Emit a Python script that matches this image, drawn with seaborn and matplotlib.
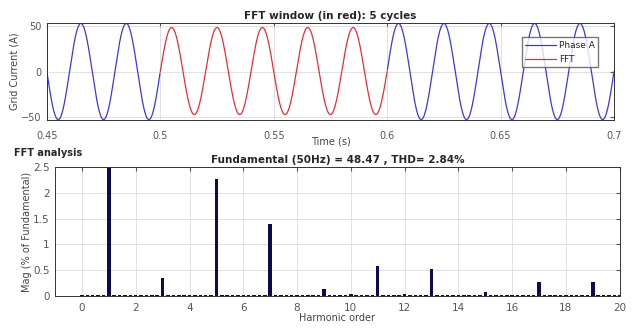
import numpy as np
import pandas as pd
import seaborn as sns
import matplotlib.pyplot as plt

#####################################
# Data
#####################################

GRID_FREQ_HZ = 50
T_START = 0.45
T_END = 0.70
FFT_START = 0.50
FFT_END = 0.60

# peak value of each half cycle (10 ms each) from 0.45 s to 0.70 s
half_cycle_peaks = [
    -53, 53, -53, 53, -53,                           # 0.45 - 0.50 (Phase A)
    48.5, -47.5, 48.5, -47.5, 48.5, -47.5, 48.5, -47.5, 48.5, -47.5,  # FFT window
    53, -53, 53, -53, 53, -53, 53, -53, 53, -53,     # 0.60 - 0.70 (Phase A)
]

# FFT magnitude (% of fundamental), orders 0..20 in 0.2 steps (rows = one order)
harmonic_orders = [round(0.2 * k, 1) for k in range(101)]
harmonic_mags = [
    0.03, 0.03, 0.03, 0.03, 0.03,   # 0
    100.0, 0.03, 0.03, 0.03, 0.03,  # 1
    0.03, 0.03, 0.03, 0.03, 0.03,   # 2
    0.35, 0.03, 0.03, 0.03, 0.03,   # 3
    0.03, 0.03, 0.03, 0.03, 0.03,   # 4
    2.27, 0.03, 0.03, 0.03, 0.03,   # 5
    0.03, 0.03, 0.03, 0.03, 0.03,   # 6
    1.40, 0.03, 0.03, 0.03, 0.03,   # 7
    0.03, 0.03, 0.03, 0.03, 0.03,   # 8
    0.13, 0.03, 0.03, 0.03, 0.03,   # 9
    0.04, 0.03, 0.03, 0.03, 0.03,   # 10
    0.58, 0.03, 0.03, 0.03, 0.03,   # 11
    0.04, 0.03, 0.03, 0.03, 0.03,   # 12
    0.53, 0.03, 0.03, 0.03, 0.03,   # 13
    0.03, 0.03, 0.03, 0.03, 0.03,   # 14
    0.08, 0.03, 0.03, 0.03, 0.03,   # 15
    0.03, 0.03, 0.03, 0.03, 0.03,   # 16
    0.27, 0.03, 0.03, 0.03, 0.03,   # 17
    0.03, 0.03, 0.03, 0.03, 0.03,   # 18
    0.27, 0.03, 0.03, 0.03, 0.03,   # 19
    0.03,                           # 20
]

TOP_TITLE = "FFT window (in red): 5 cycles"
BOTTOM_TITLE = "Fundamental (50Hz) = 48.47 , THD= 2.84%"

BLUE = "#3a3ad8"
RED = "#e0303c"
NAVY = "#0b0b52"
GRID = "#dcdcdc"


def build_waveform():
    """Sine wave at grid frequency, scaled half cycle by half cycle."""
    t = np.linspace(T_START, T_END, 2501)
    idx = np.minimum(((t - T_START) / 0.01).astype(int), len(half_cycle_peaks) - 1)
    amp = np.abs(np.array(half_cycle_peaks))[idx]
    i = amp * np.sin(2 * np.pi * GRID_FREQ_HZ * t)
    df = pd.DataFrame({"t": t, "i": i})
    df["seg"] = np.where(df["t"] < FFT_START, 0, np.where(df["t"] <= FFT_END, 1, 2))
    return df


def style_axes(ax, xpad):
    ax.grid(True, color=GRID, linewidth=0.6)
    ax.set_axisbelow(True)
    ax.tick_params(direction="in", length=3, labelsize=7, colors="#555555",
                   top=True, right=True)
    ax.tick_params(axis="x", pad=xpad)
    ax.tick_params(axis="y", pad=4)
    for s in ax.spines.values():
        s.set_color("#333333")
        s.set_linewidth(0.7)


def main():
    sns.set_style("white")
    plt.rcParams["font.family"] = ["DejaVu Sans"]

    fig = plt.figure(figsize=(6.33, 3.28), dpi=100)
    ax1 = fig.add_axes([0.074, 0.634, 0.896, 0.296])
    ax2 = fig.add_axes([0.087, 0.097, 0.892, 0.394])

    # top: waveform
    wave = build_waveform()
    blue_df = wave[wave["seg"] != 1]
    red_df = wave[wave["seg"] == 1]
    sns.lineplot(data=blue_df, x="t", y="i", units="seg", estimator=None,
                 color=BLUE, linewidth=0.9, ax=ax1)
    sns.lineplot(data=red_df, x="t", y="i", estimator=None,
                 color=RED, linewidth=0.9, ax=ax1)
    ax1.set_xlim(T_START, T_END)
    ax1.set_ylim(-53.5, 53.5)
    ax1.set_xticks([0.45, 0.5, 0.55, 0.6, 0.65, 0.7])
    ax1.set_xticklabels(["0.45", "0.5", "0.55", "0.6", "0.65", "0.7"])
    ax1.set_yticks([-50, 0, 50])
    style_axes(ax1, xpad=8)
    ax1.set_title(TOP_TITLE, fontsize=7.5, fontweight="bold", pad=3)
    ax1.set_xlabel("Time (s)", fontsize=7, color="#444444", labelpad=-3)
    ax1.set_ylabel("Grid Current (A)", fontsize=7, color="#444444", labelpad=1)
    handles = [plt.Line2D([], [], color=BLUE, linewidth=0.9),
               plt.Line2D([], [], color=RED, linewidth=0.9)]
    ax1.legend(handles, ["Phase A", "FFT"], loc="upper right",
               bbox_to_anchor=(0.98, 0.90), fontsize=6.5, frameon=True,
               fancybox=False, edgecolor="#555555", borderpad=0.4,
               handlelength=3.4, handletextpad=0.3, labelspacing=0.55)

    # bottom: FFT spectrum
    spec = pd.DataFrame({"order": harmonic_orders, "mag": harmonic_mags})
    sns.barplot(data=spec, x="order", y="mag", native_scale=True, width=0.65,
                color=NAVY, saturation=1, linewidth=0, ax=ax2)
    ax2.set_xlim(-1, 20)
    ax2.set_ylim(0, 2.5)
    ax2.set_xticks(range(0, 21, 2))
    ax2.set_yticks([0, 0.5, 1, 1.5, 2, 2.5])
    ax2.set_yticklabels(["0", "0.5", "1", "1.5", "2", "2.5"])
    style_axes(ax2, xpad=5)
    ax2.tick_params(labelsize=7.5)
    ax2.set_title(BOTTOM_TITLE, fontsize=7.5, fontweight="bold", pad=3)
    ax2.set_xlabel("Harmonic order", fontsize=7, color="#444444", labelpad=0)
    ax2.set_ylabel("Mag (% of Fundamental)", fontsize=7, color="#444444", labelpad=1)

    fig.text(0.022, 0.525, "FFT analysis", fontsize=7, fontweight="bold")

    fig.savefig("out.png", dpi=100)


if __name__ == "__main__":
    main()
